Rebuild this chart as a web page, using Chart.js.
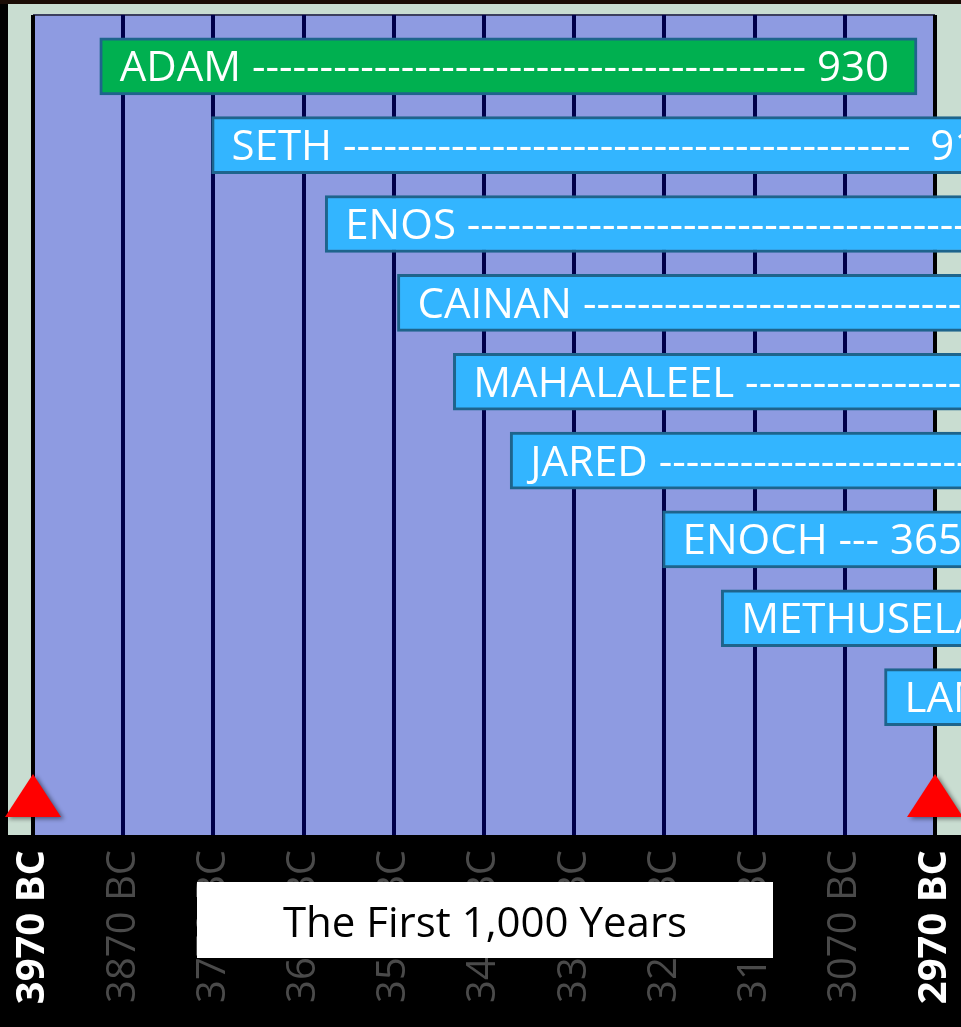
<!DOCTYPE html>
<html>
<head>
<meta charset="utf-8">
<title>The First 1,000 Years</title>
<script src="https://cdn.jsdelivr.net/npm/chart.js@4.4.0/dist/chart.umd.min.js"></script>
<style>
  html, body { margin: 0; padding: 0; background: #000; overflow: hidden; }
  canvas { display: block; }
</style>
</head>
<body>
<canvas id="patriarchChart" width="961" height="1027"></canvas>
<script>
// lifespans, in years BC
const names = ['ADAM', 'SETH', 'ENOS', 'CAINAN', 'MAHALALEEL', 'JARED', 'ENOCH', 'METHUSELAH', 'LAMECH'];
const born  = [3896, 3772, 3646, 3566, 3504, 3441, 3272, 3207, 3026];
const died  = [2990, 2860, 2741, 2656, 2609, 2479, 2907, 2238, 2249];
const ages  = [930, 912, 905, 910, 895, 962, 365, 969, 777];
const barColors = ['#00b050', '#33b5ff', '#33b5ff', '#33b5ff', '#33b5ff', '#33b5ff', '#33b5ff', '#33b5ff', '#33b5ff'];

const tickYears  = [3970, 3870, 3770, 3670, 3570, 3470, 3370, 3270, 3170, 3070, 2970];
const tickLabels = ['3970 BC', '3870 BC', '3770 BC', '3670 BC', '3570 BC', '3470 BC', '3370 BC', '3270 BC', '3170 BC', '3070 BC', '2970 BC'];
const markerYears = [3970, 2970];
const titleText = 'The First 1,000 Years';

const FONT = "'Open Sans', 'Noto Sans', sans-serif";

const backdrop = {
  id: 'backdrop',
  beforeDraw(chart) {
    const { ctx, chartArea, scales: { x } } = chart;
    const left = x.getPixelForValue(tickYears[0]);
    const right = x.getPixelForValue(tickYears[tickYears.length - 1]);
    ctx.save();
    ctx.fillStyle = '#000';
    ctx.fillRect(0, 0, chart.width, chart.height);
    ctx.fillStyle = '#1b0c06';
    ctx.fillRect(0, 0, chart.width, 4);
    ctx.fillStyle = '#c9ddd1';
    ctx.fillRect(8, 4, chart.width - 8, chartArea.bottom - 4);
    ctx.fillStyle = '#8e9be1';
    ctx.fillRect(left, chartArea.top, right - left, chartArea.bottom - chartArea.top);
    ctx.fillStyle = '#3c3f5e';
    ctx.fillRect(left, chartArea.top - 1, right - left, 2);
    ctx.restore();
  },
};

const barText = {
  id: 'barText',
  afterDatasetsDraw(chart) {
    const { ctx, chartArea, scales: { x } } = chart;
    const meta = chart.getDatasetMeta(0);
    ctx.save();
    ctx.font = `42px ${FONT}`;
    ctx.fillStyle = '#fff';
    ctx.textAlign = 'left';
    ctx.textBaseline = 'alphabetic';
    const dash = ctx.measureText('-').width;
    const space = ctx.measureText(' ').width;
    meta.data.forEach((bar, i) => {
      const left = Math.min(bar.x, bar.base);
      const right = Math.max(bar.x, bar.base);
      const yBase = bar.y + 15;
      const val = String(ages[i]);
      const valX = right - 32 - ctx.measureText(val).width;
      const nameX = left + 20;
      const nameEnd = nameX + ctx.measureText(names[i] + ' ').width;
      const n = Math.max(0, Math.floor((valX - nameEnd - space * 0.6) / dash));
      const lead = names[i] + ' ' + '-'.repeat(n);
      ctx.fillText(lead, nameX, yBase);
      ctx.fillText(val, Math.max(valX, nameX + ctx.measureText(lead + ' ').width), yBase);
    });

    // red start / end markers
    markerYears.forEach(yr => {
      const px = x.getPixelForValue(yr);
      ctx.save();
      ctx.shadowColor = 'rgba(0,0,0,0.45)';
      ctx.shadowBlur = 4;
      ctx.shadowOffsetX = 3;
      ctx.shadowOffsetY = 2;
      ctx.fillStyle = '#ff0000';
      ctx.beginPath();
      ctx.moveTo(px, chartArea.bottom - 61);
      ctx.lineTo(px + 28, chartArea.bottom - 18);
      ctx.lineTo(px - 28, chartArea.bottom - 18);
      ctx.closePath();
      ctx.fill();
      ctx.restore();
    });
    ctx.restore();
  },
  afterDraw(chart) {
    const { ctx } = chart;
    ctx.save();
    ctx.fillStyle = '#fff';
    ctx.fillRect(197, 882, 576, 76);
    ctx.fillStyle = '#000';
    ctx.font = `42px ${FONT}`;
    ctx.textAlign = 'center';
    ctx.textBaseline = 'alphabetic';
    ctx.fillText(titleText, 485, 937);
    ctx.restore();
  },
};

document.addEventListener('DOMContentLoaded', () => {
  const ctx = document.getElementById('patriarchChart').getContext('2d');
  new Chart(ctx, {
    type: 'bar',
    data: {
      datasets: [{
        data: names.map((n, i) => ({ x: [born[i], died[i]], y: i })),
        backgroundColor: barColors,
        borderColor: '#1e648c',
        borderWidth: 3,
        borderSkipped: false,
        barThickness: 57,
      }],
    },
    options: {
      indexAxis: 'y',
      responsive: false,
      animation: false,
      devicePixelRatio: 1,
      layout: { padding: { top: 15, left: 0, right: 0, bottom: 0 } },
      plugins: {
        legend: { display: false },
        tooltip: { enabled: false },
      },
      scales: {
        x: {
          type: 'linear',
          position: 'bottom',
          reverse: true,
          min: 2941.2,
          max: 4006.6,
          afterBuildTicks: s => { s.ticks = tickYears.map(v => ({ value: v })); },
          afterFit: s => { s.height = 192; s.paddingLeft = 0; s.paddingRight = 0; },
          border: { display: false },
          grid: {
            drawTicks: false,
            lineWidth: 4,
            color: c => markerYears.includes(c.tick?.value) ? '#000000' : '#00004a',
          },
          ticks: {
            autoSkip: false,
            minRotation: 90,
            maxRotation: 90,
            padding: 15,
            color: c => markerYears.includes(c.tick?.value) ? '#ffffff' : '#4a4a4a',
            font: c => ({ family: FONT, size: 40, weight: markerYears.includes(c.tick?.value) ? 'bold' : 'normal' }),
            callback: v => tickLabels[tickYears.indexOf(v)],
          },
        },
        y: {
          type: 'linear',
          reverse: true,
          offset: false,
          bounds: 'data',
          grace: 0,
          min: -0.651,
          max: 9.749,
          display: false,
        },
      },
    },
    plugins: [backdrop, barText],
  });
});
</script>
</body>
</html>
